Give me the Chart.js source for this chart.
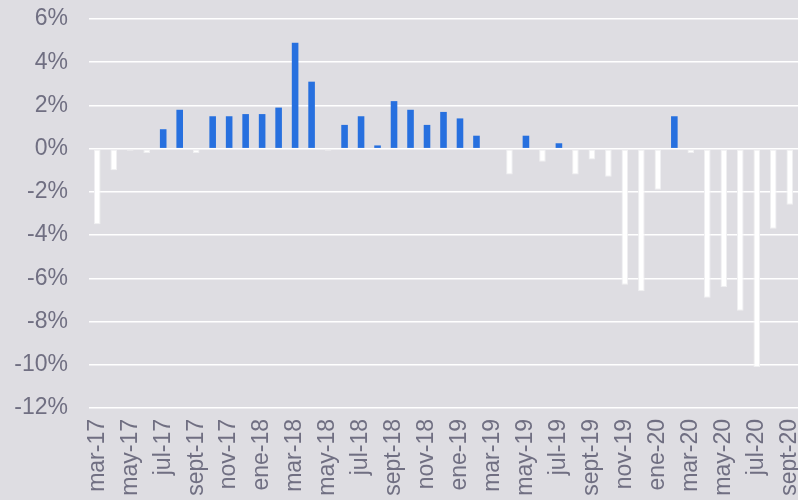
<!DOCTYPE html>
<html>
<head>
<meta charset="utf-8">
<script src="https://cdn.jsdelivr.net/npm/chart.js@4/dist/chart.umd.min.js"></script>
<style>
  html, body { margin: 0; padding: 0; background: #dedde2; }
  #wrap { width: 798px; height: 500px; position: relative; }
</style>
</head>
<body>
<div id="wrap"><canvas id="barChart"></canvas></div>
<script>
var months = ['mar-17', 'abr-17', 'may-17', 'jun-17', 'jul-17', 'ago-17', 'sept-17', 'oct-17', 'nov-17', 'dic-17',
    'ene-18', 'feb-18', 'mar-18', 'abr-18', 'may-18', 'jun-18', 'jul-18', 'ago-18', 'sept-18', 'oct-18', 'nov-18', 'dic-18',
    'ene-19', 'feb-19', 'mar-19', 'abr-19', 'may-19', 'jun-19', 'jul-19', 'ago-19', 'sept-19', 'oct-19', 'nov-19', 'dic-19',
    'ene-20', 'feb-20', 'mar-20', 'abr-20', 'may-20', 'jun-20', 'jul-20', 'ago-20', 'sept-20'];

var values = [-3.5, -1.0, -0.1, -0.2, 0.9, 1.8, -0.2, 1.5, 1.5, 1.6,
    1.6, 1.9, 4.9, 3.1, -0.1, 1.1, 1.5, 0.15, 2.2, 1.8, 1.1, 1.7,
    1.4, 0.6, 0, -1.2, 0.6, -0.6, 0.25, -1.2, -0.5, -1.3, -6.3, -6.6,
    -1.9, 1.5, -0.2, -6.9, -6.4, -7.5, -10.1, -3.7, -2.6];

var yTicks = [-12, -10, -8, -6, -4, -2, 0, 2, 4, 6];

var textColor = '#706f82';
var fontFamily = "'Liberation Sans', Arial, sans-serif";

var ctx = document.getElementById('barChart').getContext('2d');
var myChart = new Chart(ctx, {
    type: 'bar',
    data: {
        labels: months,
        datasets: [{
            label: 'variación',
            data: values,
            backgroundColor: values.map(function (v) { return v >= 0 ? '#2770df' : '#ffffff'; }),
            borderColor: values.map(function (v) { return v >= 0 ? '#2770df' : '#efeff1'; }),
            borderWidth: values.map(function (v) { return v >= 0 ? 0 : 1; }),
            borderSkipped: false,
            barPercentage: 0.4,
            categoryPercentage: 1
        }]
    },
    options: {
        responsive: true,
        maintainAspectRatio: false,
        animation: false,
        layout: { padding: { top: 19, right: 0, left: 0, bottom: 0 } },
        plugins: {
            legend: { display: false },
            tooltip: { enabled: false }
        },
        scales: {
            x: {
                grid: { display: false, drawTicks: false },
                border: { display: false },
                ticks: {
                    color: textColor,
                    font: { family: fontFamily, size: 23 },
                    autoSkip: false,
                    minRotation: 90,
                    maxRotation: 90,
                    padding: 11,
                    callback: function (val, i) { return i % 2 === 0 ? months[i] : ''; }
                },
                afterFit: function (scale) {
                    scale.height = 92;
                    scale.paddingLeft = 0;
                    scale.paddingRight = 0;
                }
            },
            y: {
                min: yTicks[0],
                max: yTicks[yTicks.length - 1],
                grid: { color: '#ffffff', lineWidth: 1.5, drawTicks: false },
                border: { display: false },
                afterBuildTicks: function (scale) {
                    scale.ticks = yTicks.map(function (v) { return { value: v }; });
                },
                ticks: {
                    color: textColor,
                    font: { family: fontFamily, size: 23 },
                    padding: 21,
                    callback: function (v) { return v + '%'; }
                },
                afterFit: function (scale) {
                    scale.width = 89;
                    scale.paddingTop = 0;
                    scale.paddingBottom = 0;
                }
            }
        }
    }
});
</script>
</body>
</html>
